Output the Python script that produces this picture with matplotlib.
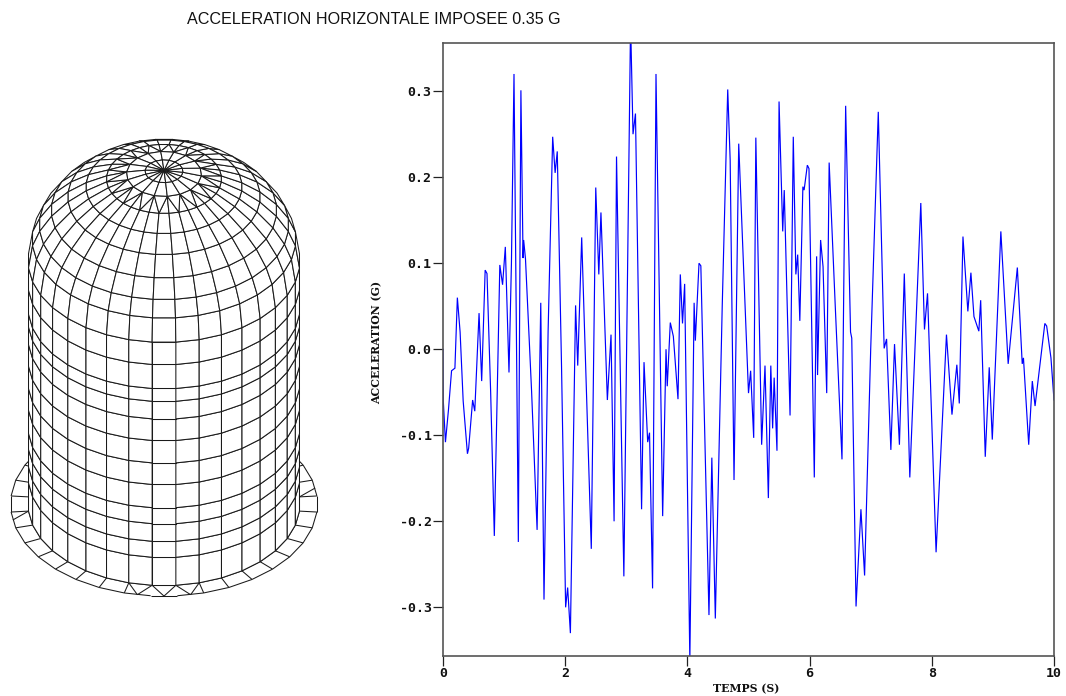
import numpy as np
import matplotlib
matplotlib.use("Agg")
import matplotlib.pyplot as plt
from matplotlib.collections import PolyCollection, LineCollection

TITLE = "ACCELERATION HORIZONTALE IMPOSEE 0.35 G"
XLABEL = "TEMPS (S)"
YLABEL = "ACCELERATION (G)"
x_ticks = [0, 2, 4, 6, 8, 10]
y_ticks = [-0.3, -0.2, -0.1, 0.0, 0.1, 0.2, 0.3]
y_tick_labels = ["-0.3", "-0.2", "-0.1", "0.0", "0.1", "0.2", "0.3"]

time_s = [0.0, 0.005, 0.04, 0.09, 0.14, 0.195, 0.235, 0.28, 0.33, 0.40, 0.42, 0.485, 0.52, 0.59, 0.633, 0.69, 0.72,
          0.78, 0.84, 0.93, 0.975, 1.02, 1.08, 1.12, 1.162, 1.233, 1.275, 1.31, 1.32, 1.35, 1.45, 1.54, 1.60, 1.653,
          1.72, 1.795, 1.835, 1.87, 1.94, 2.007, 2.04, 2.085, 2.17, 2.205, 2.27, 2.427, 2.5, 2.55, 2.585, 2.69, 2.75,
          2.80, 2.84, 2.96, 3.03, 3.07, 3.11, 3.15, 3.25, 3.29, 3.35, 3.38, 3.43, 3.486, 3.595, 3.65, 3.67, 3.72,
          3.77, 3.846, 3.884, 3.92, 3.955, 4.04, 4.11, 4.13, 4.19, 4.22, 4.353, 4.40, 4.457, 4.57, 4.66, 4.70, 4.763,
          4.84, 5.0, 5.035, 5.085, 5.12, 5.215, 5.27, 5.325, 5.365, 5.395, 5.42, 5.466, 5.5, 5.56, 5.585, 5.68,
          5.733, 5.775, 5.805, 5.84, 5.89, 5.91, 5.963, 5.99, 6.077, 6.115, 6.13, 6.18, 6.22, 6.28, 6.32, 6.42, 6.53,
          6.59, 6.67, 6.69, 6.76, 6.84, 6.90, 7.0, 7.124, 7.22, 7.26, 7.33, 7.39, 7.47, 7.55, 7.64, 7.74, 7.82,
          7.88, 7.93, 8.07, 8.24, 8.33, 8.41, 8.45, 8.51, 8.59, 8.64, 8.69, 8.77, 8.80, 8.875, 8.94, 8.99, 9.13,
          9.25, 9.4, 9.48, 9.5, 9.586, 9.645, 9.69, 9.85, 9.88, 9.95, 10.0]
accel_g = [0.0, -0.06, -0.108, -0.07, -0.025, -0.022, 0.06, 0.02, -0.06, -0.1215, -0.115, -0.059, -0.072, 0.042, -0.037,
           0.092, 0.088, -0.05, -0.217, 0.098, 0.075, 0.119, -0.027, 0.1, 0.32, -0.224, 0.301, 0.106, 0.127, 0.105,
           -0.049, -0.21, 0.054, -0.291, 0.02, 0.247, 0.205, 0.23, -0.02, -0.30, -0.277, -0.33, 0.051, -0.019, 0.13,
           -0.232, 0.188, 0.087, 0.159, -0.059, 0.017, -0.2, 0.224, -0.264, 0.14, 0.38, 0.25, 0.274, -0.186, -0.015,
           -0.108, -0.097, -0.278, 0.32, -0.194, 0.0, -0.043, 0.031, 0.015, -0.058, 0.087, 0.03, 0.076, -0.362, 0.054,
           0.01, 0.1, 0.097, -0.309, -0.126, -0.313, 0.05, 0.302, 0.22, -0.152, 0.239, -0.051, -0.025, -0.103, 0.246,
           -0.111, -0.019, -0.173, -0.019, -0.092, -0.033, -0.118, 0.288, 0.137, 0.185, -0.077, 0.247, 0.087, 0.11,
           0.033, 0.189, 0.185, 0.214, 0.21, -0.149, 0.108, -0.03, 0.127, 0.096, -0.051, 0.217, 0.05, -0.128, 0.283,
           0.02, 0.013, -0.299, -0.186, -0.263, 0.0, 0.276, 0.001, 0.012, -0.117, 0.006, -0.111, 0.088, -0.149, 0.03,
           0.17, 0.023, 0.065, -0.236, 0.017, -0.076, -0.018, -0.063, 0.131, 0.044, 0.089, 0.038, 0.021, 0.057, -0.125,
           -0.021, -0.105, 0.137, -0.017, 0.095, -0.017, -0.01, -0.111, -0.037, -0.066, 0.03, 0.027, -0.01, -0.059]

# mesh model: elevation, radii and ring stations of the shell
sin_elev, cos_elev = 0.6, 0.8
shell_radius = 136.0
flange_radius = 153.5
cylinder_ring_z = [0, 35, 55, 77, 97, 126, 153, 181, 208, 230, 246, 276, 304]
dome_ring_deg = [14, 23.5, 34, 45, 55, 65, 74, 82, 90]
dome_center_z = 304
dome_height = 113
edge_colour = "#1a1a1a"
edge_width = 0.75

CX, CY = 164.0, 504.0


def project(r, theta_deg, z):
    th = np.radians(theta_deg)
    return (CX + r * np.sin(th), CY - z * cos_elev + r * np.cos(th) * sin_elev)


def signed_area(poly):
    pts = np.asarray(poly)
    x, y = pts[:, 0], pts[:, 1]
    return 0.5 * np.sum(x * np.roll(y, -1) - np.roll(x, -1) * y)


fig = plt.figure(figsize=(10.66, 6.96), dpi=100, facecolor="white")

# ---- mesh
axm = fig.add_axes([0, 0, 1, 1])
axm.set_xlim(0, 1066)
axm.set_ylim(696, 0)
axm.axis("off")

meridians = np.arange(-175, 185, 10)
stations = [(shell_radius, z) for z in cylinder_ring_z]
stations += [(shell_radius * np.cos(np.radians(p)), dome_center_z + dome_height * np.sin(np.radians(p)))
             for p in dome_ring_deg]
n_st = len(stations)
full_upto = n_st - 4   # station where the mesh drops to every second meridian

front = []
for k in range(n_st - 1):
    r0, z0 = stations[k]
    r1, z1 = stations[k + 1]
    step = 2 if k >= full_upto else 1
    for i in range(0, len(meridians), step):
        a = meridians[i]
        b = a + 10 * step
        if k == full_upto:
            cand = [[project(r0, a, z0), project(r0, a + 10, z0), project(r1, a, z1)],
                    [project(r0, a + 10, z0), project(r0, b, z0), project(r1, b, z1)],
                    [project(r0, a + 10, z0), project(r1, b, z1), project(r1, a, z1)]]
        else:
            cand = [[project(r0, a, z0), project(r0, b, z0), project(r1, b, z1), project(r1, a, z1)]]
        for p in cand:
            # the shell is convex: faces turned towards the viewer are the visible ones
            if signed_area(p) < 0 or k < len(cylinder_ring_z) - 1 and abs(((a + 5 * step) + 180) % 360 - 180) < 90:
                front.append(p)

# flange, drawn first so that the shell covers its far side
zig_inner = [-15, -5, -5, 5, 5, 15, -85, 95]
zig_outer = [-10, -10, 0, 0, 10, 10, -80, 100]
skip_radial = [-5, 5]
seg = []
for a in meridians:
    seg.append([project(shell_radius, a, 0), project(shell_radius, a + 10, 0)])
    seg.append([project(flange_radius, a, 0), project(flange_radius, a + 10, 0)])
    if a not in skip_radial:
        seg.append([project(shell_radius, a, 0), project(flange_radius, a, 0)])
# extra outer nodes of the front zigzag lie on the outer edge
seg += [[project(shell_radius, a, 0), project(flange_radius, b, 0)] for a, b in zip(zig_inner, zig_outer)]
axm.add_collection(LineCollection(seg, colors=edge_colour, linewidths=edge_width, zorder=1))

# silhouette mask: every cylinder face is filled, dome faces facing viewer too
axm.add_collection(PolyCollection(front, facecolors="white", edgecolors=edge_colour,
                                  linewidths=edge_width, zorder=2))

# ---- time history
ax = fig.add_axes([443 / 1066, 1 - 655.5 / 696, 611 / 1066, 612.5 / 696])
ax.patch.set_alpha(0)
ax.plot(time_s, accel_g, color="#0000ff", lw=0.85, solid_joinstyle="miter")
ax.set_xlim(0, 10)
ax.set_ylim(-0.356, 0.356)
for s in ax.spines.values():
    s.set_linewidth(1.2)
    s.set_color("#555555")
ax.set_xticks(x_ticks)
ax.set_yticks(y_ticks)
ax.set_yticklabels(y_tick_labels)
ax.tick_params(length=7.2, width=0.9, color="#222222", pad=1)
for t in ax.get_xticklabels() + ax.get_yticklabels():
    t.set_fontfamily("DejaVu Sans Mono")
    t.set_fontweight("bold")
    t.set_fontsize(9.5)
    t.set_color("#111111")

fig.text(187 / 1066, 1 - 19 / 696, TITLE, family="Liberation Sans", fontsize=11.6,
         va="center", ha="left", color="#111111")
fig.text(746 / 1066, 1 - 689 / 696, XLABEL, family="DejaVu Serif", fontweight="bold", fontsize=7.8,
         va="center", ha="center", color="#111111")
fig.text(377 / 1066, 1 - 342 / 696, YLABEL, family="DejaVu Serif", fontweight="bold", fontsize=7.8,
         va="center", ha="center", rotation=90, color="#111111")

fig.savefig("out.png", dpi=100)
